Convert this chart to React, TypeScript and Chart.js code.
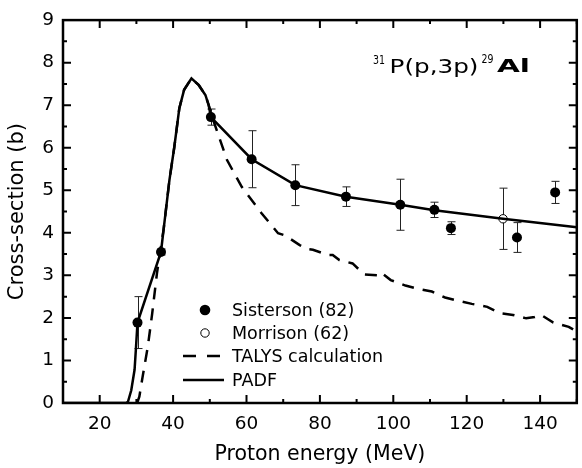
import React, { useEffect, useRef } from "react";
import { Chart, registerables } from "chart.js";

Chart.register(...registerables);

// ---- data ----
const padfX = [10, 27.2, 27.7, 28.6, 29.5, 29.9, 30.3, 36.7, 37.4, 39.0, 40.3, 41.7, 43.0, 45.0, 47.0, 48.8, 49.7, 50.3, 61.4, 73.3, 87.1, 101.9, 111.2, 129.9, 150];
const padfY = [0, 0, 0.03, 0.3, 0.78, 1.32, 1.89, 3.55, 4.07, 5.24, 6.0, 6.93, 7.36, 7.63, 7.47, 7.24, 7.0, 6.72, 5.73, 5.12, 4.85, 4.66, 4.53, 4.33, 4.13];

const talysX = [30.2, 30.8, 31.7, 33.1, 34.3, 35.6, 36.4, 37.4, 39.0, 40.3, 41.7, 43.0, 45.0, 47.0, 48.8, 49.7, 51.1, 54.7, 58.7, 64.1, 68.6, 70.5, 74.5, 76.5, 78.1, 82.2, 83.5, 85.3, 88.9, 92.1, 95.7, 96.6, 99.3, 103.3, 106.9, 110.5, 114.1, 117.8, 121.4, 125.6, 129.0, 132.6, 136.2, 138.5, 140.3, 143.6, 147.8, 150];
const talysY = [0, 0.15, 0.62, 1.32, 2.1, 3.05, 3.52, 4.07, 5.24, 6.0, 6.93, 7.36, 7.63, 7.47, 7.24, 7.0, 6.61, 5.71, 5.08, 4.46, 3.99, 3.94, 3.71, 3.62, 3.6, 3.48, 3.48, 3.36, 3.28, 3.02, 3.0, 3.07, 2.89, 2.76, 2.68, 2.62, 2.48, 2.40, 2.33, 2.26, 2.11, 2.07, 1.99, 2.02, 2.07, 1.89, 1.79, 1.68];

const sistX = [30.3, 36.7, 50.3, 61.4, 73.3, 87.1, 101.9, 111.2, 115.7, 133.7, 144.1];
const sistY = [1.89, 3.55, 6.72, 5.73, 5.12, 4.85, 4.66, 4.54, 4.11, 3.89, 4.95];
const sistErr = [0.61, 0.07, 0.19, 0.67, 0.48, 0.23, 0.60, 0.18, 0.15, 0.35, 0.26];

const morrX = [129.9];
const morrY = [4.33];
const morrErr = [0.72];

const xTicks = [20, 40, 60, 80, 100, 120, 140];
const xMinor = [10, 30, 50, 70, 90, 110, 130, 150];
const yTicks = [0, 1, 2, 3, 4, 5, 6, 7, 8, 9];
const yMinor = [0.5, 1.5, 2.5, 3.5, 4.5, 5.5, 6.5, 7.5, 8.5];

const legendLabels = ["Sisterson (82)", "Morrison (62)", "TALYS calculation", "PADF"];
const xTitle = "Proton energy (MeV)";
const yTitle = "Cross-section (b)";

const FONT = "'DejaVu Sans', sans-serif";

const toPts = (xs: number[], ys: number[]) => xs.map((x, i) => ({ x, y: ys[i] }));

const decorPlugin = {
  id: "decor",
  beforeDatasetsDraw(chart: any) {
    const ctx = chart.ctx;
    const xs = chart.scales.x;
    const ys = chart.scales.y;
    ctx.save();
    ctx.strokeStyle = "#222";
    ctx.lineWidth = 1;
    const bars = (X: number[], Y: number[], E: number[]) => {
      X.forEach((x, i) => {
        const px = Math.round(xs.getPixelForValue(x)) + 0.5;
        const top = ys.getPixelForValue(Y[i] + E[i]);
        const bot = ys.getPixelForValue(Y[i] - E[i]);
        ctx.beginPath();
        ctx.moveTo(px, top);
        ctx.lineTo(px, bot);
        ctx.moveTo(px - 4, top);
        ctx.lineTo(px + 4, top);
        ctx.moveTo(px - 4, bot);
        ctx.lineTo(px + 4, bot);
        ctx.stroke();
      });
    };
    bars(sistX, sistY, sistErr);
    bars(morrX, morrY, morrErr);
    ctx.restore();
  },
  afterDraw(chart: any) {
    const ctx = chart.ctx;
    const a = chart.chartArea;
    const xs = chart.scales.x;
    const ys = chart.scales.y;
    ctx.save();
    ctx.strokeStyle = "#000";
    ctx.lineWidth = 2.5;
    ctx.strokeRect(a.left, a.top, a.right - a.left, a.bottom - a.top);
    ctx.lineWidth = 2;
    const tickX = (vals: number[], len: number) => {
      vals.forEach((v) => {
        const px = xs.getPixelForValue(v);
        ctx.beginPath();
        ctx.moveTo(px, a.bottom);
        ctx.lineTo(px, a.bottom - len);
        ctx.moveTo(px, a.top);
        ctx.lineTo(px, a.top + len);
        ctx.stroke();
      });
    };
    const tickY = (vals: number[], len: number) => {
      vals.forEach((v) => {
        const py = ys.getPixelForValue(v);
        ctx.beginPath();
        ctx.moveTo(a.left, py);
        ctx.lineTo(a.left + len, py);
        ctx.moveTo(a.right, py);
        ctx.lineTo(a.right - len, py);
        ctx.stroke();
      });
    };
    tickX(xTicks, 8);
    tickX(xMinor, 4);
    tickY(yTicks, 8);
    tickY(yMinor, 4);

    // legend
    const rows = [310, 333, 356, 380];
    ctx.fillStyle = "#000";
    ctx.beginPath();
    ctx.arc(205, rows[0], 5.3, 0, Math.PI * 2);
    ctx.fill();
    ctx.lineWidth = 1;
    ctx.beginPath();
    ctx.arc(205, rows[1], 4.2, 0, Math.PI * 2);
    ctx.stroke();
    ctx.lineWidth = 2.5;
    ctx.setLineDash([13, 11]);
    ctx.beginPath();
    ctx.moveTo(183, rows[2]);
    ctx.lineTo(224, rows[2]);
    ctx.stroke();
    ctx.setLineDash([]);
    ctx.beginPath();
    ctx.moveTo(183, rows[3]);
    ctx.lineTo(224, rows[3]);
    ctx.stroke();
    ctx.font = `17.5px ${FONT}`;
    ctx.textBaseline = "middle";
    ctx.textAlign = "left";
    legendLabels.forEach((t, i) => ctx.fillText(t, 232, rows[i] + 1));

    // reaction label
    ctx.textBaseline = "alphabetic";
    const drawScaled = (text: string, font: string, x: number, base: number, width: number) => {
      ctx.font = font;
      const w = ctx.measureText(text).width;
      ctx.save();
      ctx.translate(x, base);
      ctx.scale(width / w, 1);
      ctx.fillText(text, 0, 0);
      ctx.restore();
    };
    drawScaled("31", `11.5px ${FONT}`, 373, 63.5, 12);
    drawScaled("P(p,3p)", `19.5px ${FONT}`, 389.5, 72.5, 89);
    drawScaled("29", `11.5px ${FONT}`, 481.5, 63, 12);
    drawScaled("Al", `bold 17px ${FONT}`, 497, 72, 33);
    ctx.restore();
  },
};

export default function App() {
  const ref = useRef<HTMLCanvasElement | null>(null);
  useEffect(() => {
    if (!ref.current) return;
    const chart = new Chart(ref.current, {
      type: "line",
      data: {
        datasets: [
          {
            label: "PADF",
            data: toPts(padfX, padfY),
            borderColor: "#000",
            borderWidth: 2.5,
            pointRadius: 0,
            tension: 0,
            fill: false,
          },
          {
            label: "TALYS calculation",
            data: toPts(talysX, talysY),
            borderColor: "#000",
            borderWidth: 2.5,
            borderDash: [12, 9],
            pointRadius: 0,
            tension: 0,
            fill: false,
          },
          {
            label: "Sisterson (82)",
            data: toPts(sistX, sistY),
            showLine: false,
            pointRadius: 5,
            pointBackgroundColor: "#000",
            pointBorderColor: "#000",
            pointBorderWidth: 0,
          },
          {
            label: "Morrison (62)",
            data: toPts(morrX, morrY),
            showLine: false,
            pointRadius: 4.2,
            pointBackgroundColor: "#fff",
            pointBorderColor: "#000",
            pointBorderWidth: 1,
          },
        ],
      },
      options: {
        responsive: false,
        animation: false,
        events: [],
        layout: { padding: { top: 20, right: 2, left: 0, bottom: 0 } },
        plugins: { legend: { display: false }, tooltip: { enabled: false } },
        scales: {
          x: {
            type: "linear",
            min: 10,
            max: 150,
            grid: { display: false, drawTicks: false },
            border: { display: false },
            afterBuildTicks: (s: any) => {
              s.ticks = xTicks.map((v) => ({ value: v }));
            },
            afterFit: (s: any) => {
              s.height = 65;
            },
            ticks: {
              color: "#000",
              padding: 10,
              font: { family: FONT, size: 18.5 },
              maxRotation: 0,
              autoSkip: false,
            },
            title: {
              display: true,
              text: xTitle,
              color: "#000",
              font: { family: FONT, size: 20.5 },
              padding: { top: 0, bottom: 1 },
            },
          },
          y: {
            min: 0,
            max: 9,
            grid: { display: false, drawTicks: false },
            border: { display: false },
            afterBuildTicks: (s: any) => {
              s.ticks = yTicks.map((v) => ({ value: v }));
            },
            afterFit: (s: any) => {
              s.width = 63;
            },
            ticks: {
              color: "#000",
              padding: 9,
              font: { family: FONT, size: 18.5 },
              autoSkip: false,
            },
            title: {
              display: true,
              text: yTitle,
              color: "#000",
              font: { family: FONT, size: 21 },
              padding: { top: 5, bottom: 0 },
            },
          },
        },
      },
      plugins: [decorPlugin],
    });
    return () => chart.destroy();
  }, []);
  return (
    <div style={{ position: "fixed", left: 0, top: 0, width: 582, height: 468, background: "#fff" }}>
      <canvas ref={ref} width={582} height={468} />
    </div>
  );
}
